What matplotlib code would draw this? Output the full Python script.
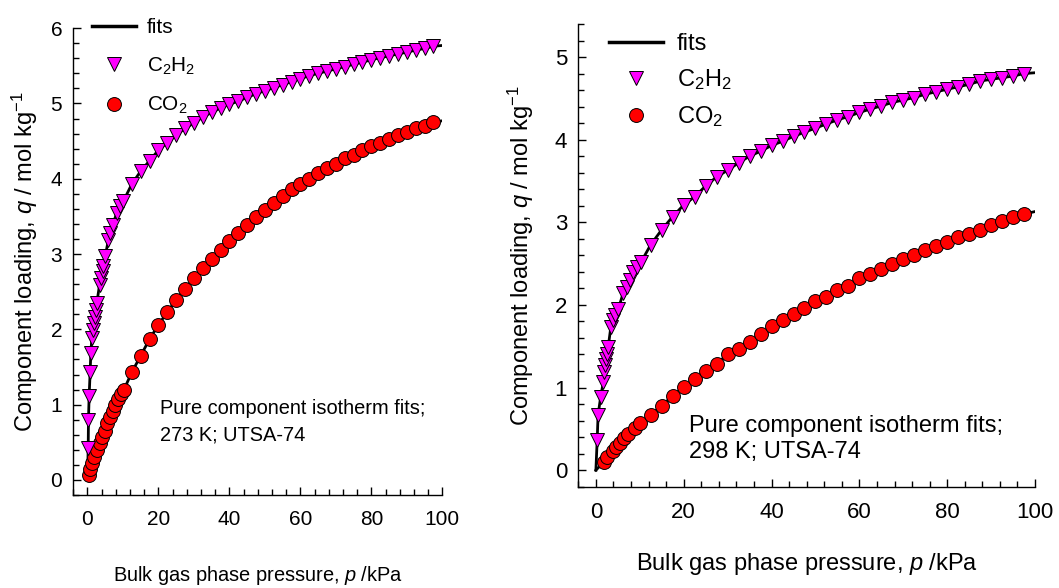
import matplotlib
matplotlib.use("Agg")
import matplotlib.pyplot as plt
import matplotlib.font_manager as fm
from matplotlib.lines import Line2D
from matplotlib.ticker import MultipleLocator

# ---- data (pressure in kPa, loading in mol/kg) ----
p_grid = [12.5, 15, 17.5, 20, 22.5, 25, 27.5, 30, 32.5, 35, 37.5, 40, 42.5,
          45, 47.5, 50, 52.5, 55, 57.5, 60, 62.5, 65, 67.5, 70, 72.5, 75,
          77.5, 80, 82.5, 85, 87.5, 90, 92.5, 95, 97.5]

# 273 K
c2h2_273_p = [0.2, 0.28, 0.47, 0.75, 0.94, 1.22, 1.5, 1.88, 2.16, 2.44, 2.63,
              3.4, 3.85, 4.3, 4.5, 5.0, 5.9, 6.4, 7.1, 8.3, 9.2, 10.1] + p_grid
c2h2_273_q = [0.42, 0.80, 1.12, 1.43, 1.68, 1.88, 1.99, 2.08, 2.17, 2.26, 2.35,
              2.59, 2.68, 2.77, 2.84, 2.97, 3.19, 3.28, 3.39, 3.55, 3.64, 3.70,
              3.93, 4.10, 4.24, 4.38, 4.48, 4.58, 4.67, 4.74, 4.82, 4.88, 4.94,
              4.99, 5.03, 5.08, 5.13, 5.17, 5.21, 5.25, 5.29, 5.33, 5.37, 5.40,
              5.43, 5.46, 5.49, 5.52, 5.55, 5.58, 5.61, 5.63, 5.66, 5.68, 5.71,
              5.73, 5.76]
co2_273_p = [0.3, 0.75, 1.2, 1.9, 2.6, 3.4, 4.0, 5.0, 5.6, 6.4, 7.1, 7.8, 8.7,
             9.4, 10.2] + p_grid
co2_273_q = [0.06, 0.15, 0.22, 0.31, 0.40, 0.49, 0.57, 0.65, 0.75, 0.83, 0.92,
             1.00, 1.08, 1.14, 1.19,
             1.43, 1.65, 1.87, 2.06, 2.23, 2.39, 2.54, 2.68, 2.81, 2.94, 3.06,
             3.17, 3.28, 3.38, 3.49, 3.58, 3.68, 3.77, 3.86, 3.93, 4.00, 4.07,
             4.14, 4.20, 4.27, 4.32, 4.38, 4.43, 4.48, 4.53, 4.58, 4.62, 4.67,
             4.70, 4.75]

# 298 K
c2h2_298_p = [0.3, 0.5, 1.1, 1.7, 1.9, 2.0, 2.3, 2.5, 2.8, 3.4, 3.9, 4.3, 5.1,
              6.2, 7.0, 7.7, 8.5, 9.3, 10.3] + p_grid
c2h2_298_q = [0.37, 0.67, 0.89, 1.07, 1.19, 1.27, 1.35, 1.41, 1.49, 1.73, 1.82,
              1.88, 1.95, 2.14, 2.22, 2.30, 2.40, 2.46, 2.52,
              2.73, 2.91, 3.07, 3.21, 3.31, 3.44, 3.55, 3.63, 3.72, 3.80, 3.86,
              3.93, 3.98, 4.04, 4.09, 4.14, 4.19, 4.24, 4.28, 4.33, 4.37, 4.41,
              4.45, 4.48, 4.51, 4.55, 4.58, 4.61, 4.64, 4.67, 4.71, 4.73, 4.75,
              4.77, 4.80]
co2_298_p = [1.8, 2.6, 3.8, 4.6, 5.5, 6.5, 7.4, 8.9, 10.1] + p_grid
co2_298_q = [0.10, 0.16, 0.23, 0.28, 0.33, 0.39, 0.44, 0.51, 0.57,
             0.67, 0.78, 0.90, 1.01, 1.10, 1.20, 1.29, 1.40, 1.47, 1.55, 1.65,
             1.74, 1.82, 1.89, 1.96, 2.05, 2.10, 2.18, 2.23, 2.32, 2.37, 2.43,
             2.50, 2.55, 2.61, 2.67, 2.71, 2.76, 2.82, 2.86, 2.91, 2.97, 3.01,
             3.06, 3.10]

# end points of the fit curves at 100 kPa
fit_end_273 = [5.77, 4.77]
fit_end_298 = [4.81, 3.13]

x_ticks = [0, 20, 40, 60, 80, 100]

# ---- fonts ----
names = {f.name for f in fm.fontManager.ttflist}
regular = "Liberation Sans"
narrow = "Liberation Sans Narrow" if "Liberation Sans Narrow" in names else regular
# the left panel of the original is squeezed sideways: use smaller text there
# unless a narrow face is available
small = 1.0 if narrow != regular else 0.85

plt.rcParams["font.family"] = [regular, "DejaVu Sans"]
plt.rcParams["mathtext.fontset"] = "custom"
plt.rcParams["mathtext.rm"] = regular
plt.rcParams["mathtext.it"] = regular + ":italic"

fig = plt.figure(figsize=(10.59, 5.88), dpi=100)
ax1 = fig.add_axes([0.0692, 0.1582, 0.3485, 0.7939])
ax2 = fig.add_axes([0.5461, 0.1723, 0.4313, 0.7869])


def draw_panel(ax, c2h2_p, c2h2_q, co2_p, co2_q, ends, ymax, family, scale,
               tick_fs, xlab_y, ylab_x):
    # fit curves (black) under the symbols
    ax.plot([0] + c2h2_p + [100], [0] + c2h2_q + [ends[0]], color="black",
            lw=2, zorder=1)
    ax.plot([0] + co2_p + [100], [0] + co2_q + [ends[1]], color="black",
            lw=2, zorder=1)
    ax.plot(c2h2_p, c2h2_q, ls="none", marker="v", ms=10, mfc="#ff00ff",
            mec="black", mew=0.7, zorder=3)
    ax.plot(co2_p, co2_q, ls="none", marker="o", ms=10, mfc="#ff0000",
            mec="black", mew=0.7, zorder=2)

    ax.set_xlim(-4, 100)
    ax.set_ylim(-0.2, ymax)
    ax.set_xticks(x_ticks)
    ax.xaxis.set_minor_locator(MultipleLocator(4))
    ax.yaxis.set_major_locator(MultipleLocator(1))
    ax.yaxis.set_minor_locator(MultipleLocator(0.2))
    ax.spines["top"].set_visible(False)
    ax.spines["right"].set_visible(False)
    for s in ("left", "bottom"):
        ax.spines[s].set_linewidth(1.0)
    ax.tick_params(which="both", direction="in", top=False, right=False,
                   width=1.0)
    ax.tick_params(which="major", length=6)
    ax.tick_params(which="minor", length=4)
    ax.tick_params(axis="x", pad=11, labelsize=tick_fs)
    ax.tick_params(axis="y", pad=8, labelsize=tick_fs)
    for lab in ax.get_xticklabels() + ax.get_yticklabels():
        lab.set_family([family, "DejaVu Sans"])

    ax.set_xlabel(r"Bulk gas phase pressure, $p$ /kPa", fontsize=17 * scale,
                  family=[family, "DejaVu Sans"])
    ax.set_ylabel(r"Component loading, $q$ / mol kg$^{\mathdefault{-1}}$",
                  fontsize=17)
    ax.xaxis.set_label_coords(0.5, xlab_y)
    ax.yaxis.set_label_coords(ylab_x, 0.5)


draw_panel(ax1, c2h2_273_p, c2h2_273_q, co2_273_p, co2_273_q, fit_end_273,
           6, narrow, small, 16 if small == 1.0 else 15, -0.148, -0.089)
draw_panel(ax2, c2h2_298_p, c2h2_298_q, co2_298_p, co2_298_q, fit_end_298,
           5.4, regular, 1.0, 16, -0.140, -0.093)

labels = ["fits", r"C$_\mathdefault{2}$H$_\mathdefault{2}$",
          r"CO$_\mathdefault{2}$"]


def handles():
    return [Line2D([], [], color="black", lw=2.5),
            Line2D([], [], ls="none", marker="v", ms=10, mfc="#ff00ff",
                   mec="black", mew=0.7),
            Line2D([], [], ls="none", marker="o", ms=10, mfc="#ff0000",
                   mec="black", mew=0.7)]


W, H = 1059.0, 588.0
left_fs = 17 * (1.0 if small == 1.0 else 0.88)
fig.legend(handles(), labels, loc="upper left",
           bbox_to_anchor=(92 / W, 1 - 18 / H), bbox_transform=fig.transFigure,
           frameon=False, borderpad=0, borderaxespad=0,
           handlelength=44 / (left_fs * 1.389),
           handletextpad=11 / (left_fs * 1.389), labelspacing=0.88,
           prop={"family": [narrow, "DejaVu Sans"], "size": left_fs})
fig.legend(handles(), labels, loc="upper left",
           bbox_to_anchor=(609 / W, 1 - 33 / H), bbox_transform=fig.transFigure,
           frameon=False, borderpad=0, borderaxespad=0, handlelength=2.3,
           handletextpad=0.57, labelspacing=0.52,
           prop={"family": [regular, "DejaVu Sans"], "size": 17})

fig.text(160 / W, 1 - 422 / H, "Pure component isotherm fits;\n273 K; UTSA-74",
         ha="left", va="center", fontsize=17 * small,
         family=[narrow, "DejaVu Sans"], linespacing=1.15 / small ** 1.6)
fig.text(689 / W, 1 - 439 / H, "Pure component isotherm fits;\n298 K; UTSA-74",
         ha="left", va="center", fontsize=17, family=[regular, "DejaVu Sans"],
         linespacing=1.28)

fig.savefig("out.png", dpi=100)
